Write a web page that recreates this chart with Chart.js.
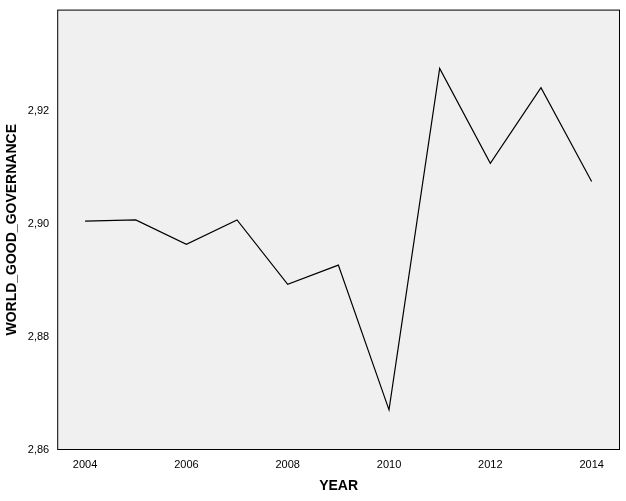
<!DOCTYPE html>
<html><head><meta charset="utf-8">
<script src="https://cdn.jsdelivr.net/npm/chart.js@4/dist/chart.umd.min.js"></script>
<style>html,body{margin:0;background:#fff}#wrap{width:626px;height:501px}</style>
</head><body><div id="wrap"><canvas id="chart"></canvas></div>
<script>
const years = [2004, 2005, 2006, 2007, 2008, 2009, 2010, 2011, 2012, 2013, 2014];
const governance = [2.9005, 2.9007, 2.8964, 2.9007, 2.8893, 2.8927, 2.8671, 2.9275, 2.9107, 2.9241, 2.9075];
const yTicks = [2.86, 2.88, 2.90, 2.92];

// gray plot background
const plotBg = {
    id: 'plotBg',
    beforeDraw(c) {
        const a = c.chartArea, ctx = c.ctx;
        ctx.save();
        ctx.fillStyle = '#f0f0f0';
        ctx.fillRect(a.left, a.top, a.right - a.left, a.bottom - a.top);
        ctx.strokeStyle = '#000';
        ctx.lineWidth = 1;
        ctx.strokeRect(a.left + 0.5, a.top + 0.5, a.right - a.left - 1, a.bottom - a.top - 1);
        ctx.restore();
    }
};

new Chart(document.getElementById("chart"), {
    type: 'line',
    data: {
        datasets: [{
            data: years.map((y, i) => ({ x: y, y: governance[i] })),
            borderColor: '#000',
            borderWidth: 1.2,
            pointRadius: 0,
            tension: 0
        }]
    },
    options: {
        responsive: true,
        maintainAspectRatio: false,
        animation: false,
        layout: { padding: { top: 4, right: 6, bottom: 2 } },
        plugins: { legend: { display: false }, tooltip: { enabled: false } },
        scales: {
            x: {
                type: 'linear',
                min: 2003.45,
                max: 2014.56,
                afterBuildTicks: s => { s.ticks = years.filter(y => y % 2 === 0).map(v => ({ value: v })); },
                grid: { display: false, drawTicks: true, tickLength: 5, tickColor: '#000' },
                border: { display: false },
                ticks: { color: '#000', font: { family: 'Arial, Liberation Sans', size: 11 }, maxRotation: 0, callback: v => String(v) },
                title: { display: true, text: 'YEAR', color: '#000', font: { family: 'Arial, Liberation Sans', size: 14, weight: 'bold' } }
            },
            y: {
                min: 2.86,
                max: 2.9379,
                afterBuildTicks: s => { s.ticks = yTicks.map(v => ({ value: v })); },
                grid: { display: false, tickLength: 5, tickColor: '#000' },
                border: { display: false },
                ticks: { color: '#000', font: { family: 'Arial, Liberation Sans', size: 11 }, callback: v => v.toFixed(2).replace('.', ',') },
                title: { display: true, text: 'WORLD_GOOD_GOVERNANCE', color: '#000', font: { family: 'Arial, Liberation Sans', size: 14, weight: 'bold' } }
            }
        }
    },
    plugins: [plotBg]
});
</script></body></html>
